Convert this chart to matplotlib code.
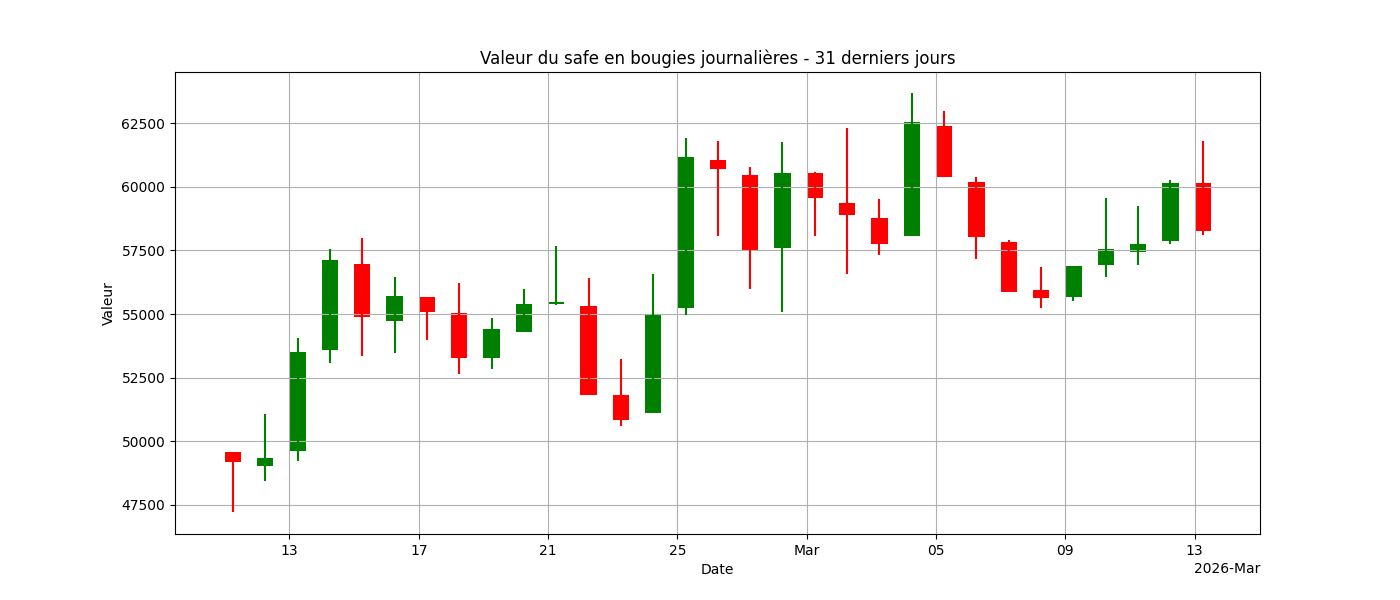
import matplotlib
matplotlib.use("Agg")
import matplotlib.pyplot as plt
import matplotlib.dates as mdates
import numpy as np
import datetime as dt

dates = [dt.datetime(2026, 2, 11) + dt.timedelta(days=i) for i in range(31)]
opens = [49581, 49031, 49620, 53587, 56964, 54725, 55668, 55040, 53272, 54293, 55393,
         55315, 51820, 51113, 55236, 61048, 60459, 57592, 60537, 59360, 58770, 58063,
         62383, 60184, 57828, 55943, 55668, 56925, 57435, 57867, 60144]
closes = [49189, 49346, 53508, 57121, 54883, 55707, 55079, 53272, 54411, 55393, 55472,
          51820, 50838, 54961, 61166, 60695, 57475, 60537, 59556, 58888, 57749, 62540,
          60380, 58024, 55864, 55629, 56885, 57553, 57749, 60144, 58260]
highs = [49581, 51074, 54058, 57553, 57985, 56453, 55668, 56218, 54843, 55982, 57671,
         56414, 53233, 56571, 61912, 61794, 60773, 61755, 60577, 62304, 59517, 63679,
         62972, 60380, 57906, 56846, 56885, 59556, 59242, 60262, 61794]
lows = [47225, 48442, 49228, 53076, 53351, 53469, 53980, 52644, 52841, 54293, 55354,
        51820, 50602, 51113, 54961, 58063, 55982, 55079, 58063, 56571, 57317, 58063,
        60380, 57160, 55864, 55236, 55511, 56453, 56925, 57749, 58103]

fig, ax = plt.subplots(figsize=(14, 6), dpi=100)
x = mdates.date2num(dates)
for xi, o, c, h, l in zip(x, opens, closes, highs, lows):
    col = 'green' if c >= o else 'red'
    ax.vlines(xi + 0.25, l, h, color=col, linewidth=1.5)
    ax.bar(xi, abs(c - o), bottom=min(o, c), width=0.5, align='edge', color=col)

loc = mdates.AutoDateLocator()
ax.xaxis.set_major_locator(loc)
ax.xaxis.set_major_formatter(mdates.ConciseDateFormatter(loc))
ax.set_xlim(mdates.date2num(dt.datetime(2026, 2, 9, 11)), mdates.date2num(dt.datetime(2026, 3, 15, 0, 30)))
ax.set_ylim(46361, 64504)
ax.grid(True)
ax.set_title("Valeur du safe en bougies journalières - 31 derniers jours")
ax.set_xlabel("Date")
ax.set_ylabel("Valeur")
fig.savefig("out.png")
